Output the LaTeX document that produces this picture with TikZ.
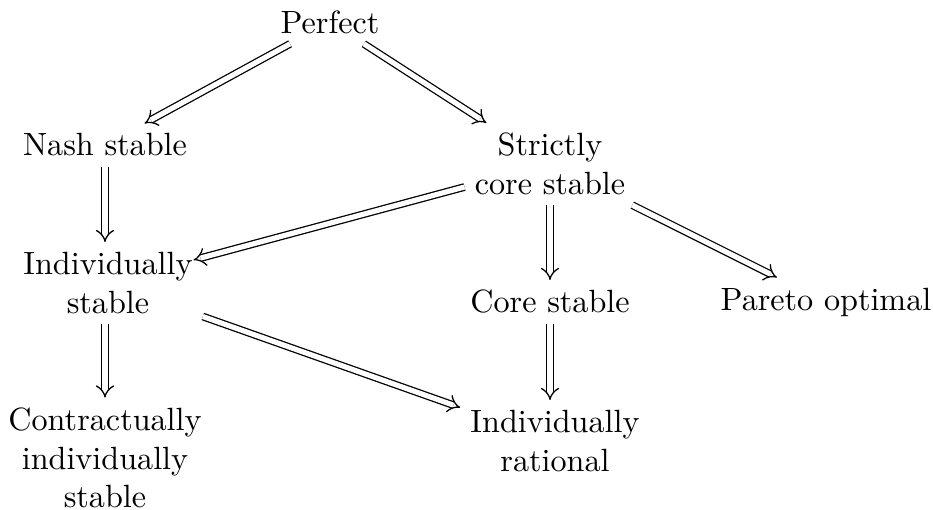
\documentclass[tikz,border=0pt]{standalone}
\usetikzlibrary{arrows.meta}
\begin{document}
\begin{tikzpicture}[x=0.3108pt,y=-0.3108pt,
  lbl/.style={align=center,inner sep=3pt},
  impl/.style={double,double distance=1.6pt,-{Implies},thin}]
\useasboundingbox (0,0) rectangle (933,509);
\node[lbl] (perf) at (330,22) {Perfect};
\node[lbl] (nash) at (105,145) {Nash stable};
\node[lbl] (scs) at (550,164) {Strictly\\core stable};
\node[lbl] (is) at (108,283) {Individually\\stable};
\node[lbl] (cs) at (550,302) {Core stable};
\node[lbl] (po) at (826,302) {Pareto optimal};
\node[lbl] (cis) at (105,458) {Contractually\\individually\\stable};
\node[lbl] (ir) at (555,441) {Individually\\rational};
\draw[impl] (perf) -- (nash);
\draw[impl] (perf) -- (scs);
\draw[impl] (nash) -- (nash |- is.north);
\draw[impl,shorten >=-3pt] (scs) -- (is);
\draw[impl] (scs) -- (cs);
\draw[impl] (scs) -- (po);
\draw[impl] (is.south -| cis) -- (cis);
\draw[impl] (is) -- (ir);
\draw[impl] (cs) -- (cs |- ir.north);
\end{tikzpicture}
\end{document}
